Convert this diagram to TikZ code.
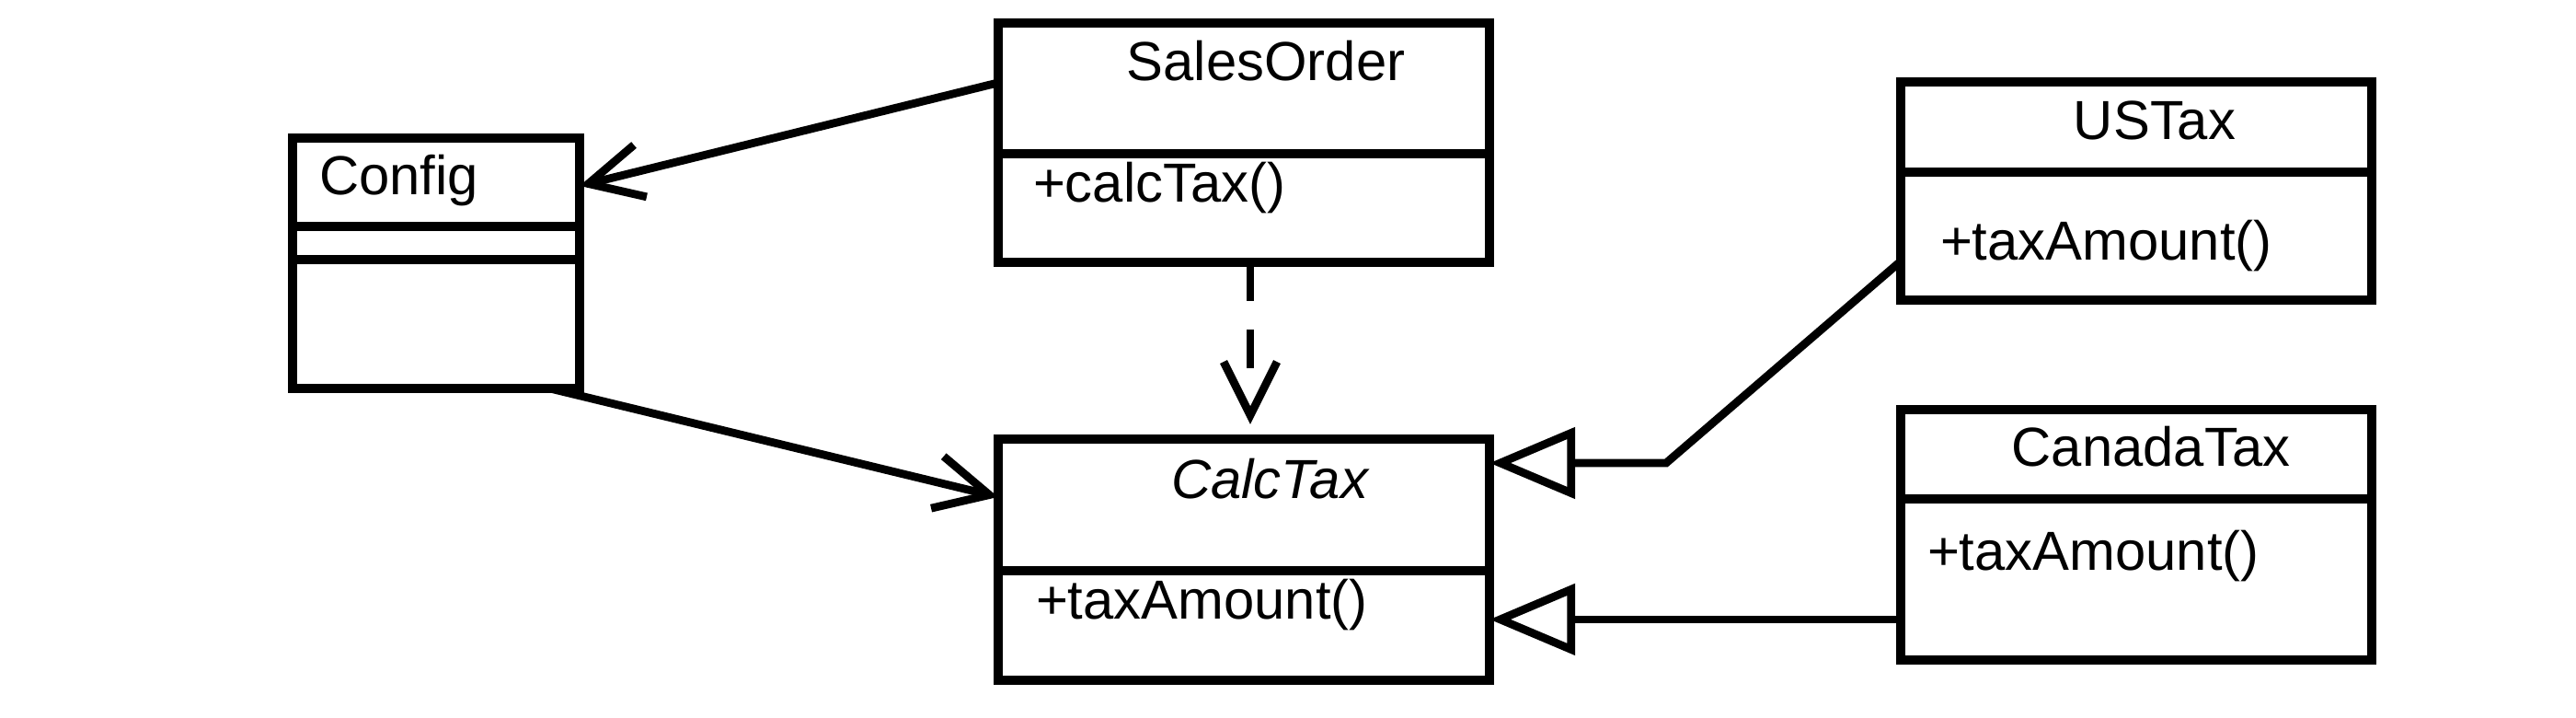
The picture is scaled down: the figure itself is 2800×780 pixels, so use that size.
\documentclass[tikz,border=0pt]{standalone}
\usepackage{fontspec}
\setmainfont{Liberation Sans}
\usetikzlibrary{arrows.meta,calc}
\tikzset{
  cls/.style={draw=black, line width=2.9pt, rectangle, inner sep=0pt, outer sep=0pt, fill=white},
  sep/.style={draw=black, line width=2.9pt},
  lbl/.style={inner sep=0pt, outer sep=0pt, font=\fontsize{17}{20}\selectfont},
  assoc/.style={line width=2.5pt, -{Straight Barb[length=0.58cm,width=0.58cm]}},
  dep/.style={line width=2.5pt, dash pattern=on 0.42cm off 0.31cm on 0.42cm off 3cm, -{Straight Barb[length=0.58cm,width=0.58cm]}},
  gen/.style={line width=2.5pt, line join=miter, -{Triangle[open,length=0.93cm,width=0.76cm,fill=white]}}
}
\begin{document}
\begin{tikzpicture}[x=0.01cm,y=-0.01cm]
\useasboundingbox[fill=white] (0,0) rectangle (2800,780);

% class boxes
\node[cls, minimum width=3.12cm, minimum height=2.72cm] (cfg) at (474,286) {};
\node[cls, minimum width=5.34cm, minimum height=2.60cm] (so) at (1352,155) {};
\node[cls, minimum width=5.34cm, minimum height=2.62cm] (ct) at (1352,608) {};
\node[cls, minimum width=5.12cm, minimum height=2.37cm] (us) at (2322,207.5) {};
\node[cls, minimum width=5.12cm, minimum height=2.72cm] (ca) at (2322,581) {};

% compartment lines
\draw[sep] ($(cfg.north west)+(0,96)$) -- ($(cfg.north east)+(0,96)$);
\draw[sep] ($(cfg.north west)+(0,132)$) -- ($(cfg.north east)+(0,132)$);
\draw[sep] ($(so.north west)+(0,142)$) -- ($(so.north east)+(0,142)$);
\draw[sep] ($(ct.north west)+(0,143)$) -- ($(ct.north east)+(0,143)$);
\draw[sep] ($(us.north west)+(0,98)$) -- ($(us.north east)+(0,98)$);
\draw[sep] ($(ca.north west)+(0,97)$) -- ($(ca.north east)+(0,97)$);

% texts
\node[lbl, anchor=base west] (tcfg) at (347,212) {Config};
\node[lbl, anchor=base] (tso) at (1376,88) {SalesOrder};
\node[lbl, anchor=base west] (tsom) at (1123,220) {+calcTax()};
\node[lbl, anchor=base] (tct) at (1380,542) {\itshape CalcTax};
\node[lbl, anchor=base west] (tctm) at (1126,673) {+taxAmount()};
\node[lbl, anchor=base] (tus) at (2342,152) {USTax};
\node[lbl, anchor=base west] (tusm) at (2109,283) {+taxAmount()};
\node[lbl, anchor=base] (tca) at (2338,507) {CanadaTax};
\node[lbl, anchor=base west] (tcam) at (2095,620) {+taxAmount()};

% connectors
\coordinate (soA) at ($(so.north west)+(0,65)$);
\coordinate (cfA) at ($(cfg.north east)+(0,52)$);
\draw[assoc] (soA) -- (cfA);

\coordinate (cfB) at ($(cfg.south east)+(-32,0)$);
\coordinate (ctA) at ($(ct.north west)+(0,63)$);
\draw[assoc] (cfB) -- (ctA);

\coordinate (soB) at ($(so.south)+(7,0)$);
\coordinate (ctB) at ($(ct.north)+(7,-16)$);
\draw[dep] (soB) -- (ctB);

\coordinate (usA) at ($(us.north west)+(0,195)$);
\coordinate (usB) at (1811,503);
\draw[gen] (usA) -- (usB) -- (ct.east |- usB);

\coordinate (caA) at ($(ca.north west)+(0,228)$);
\draw[gen] (caA) -- (ct.east |- caA);
\end{tikzpicture}
\end{document}
